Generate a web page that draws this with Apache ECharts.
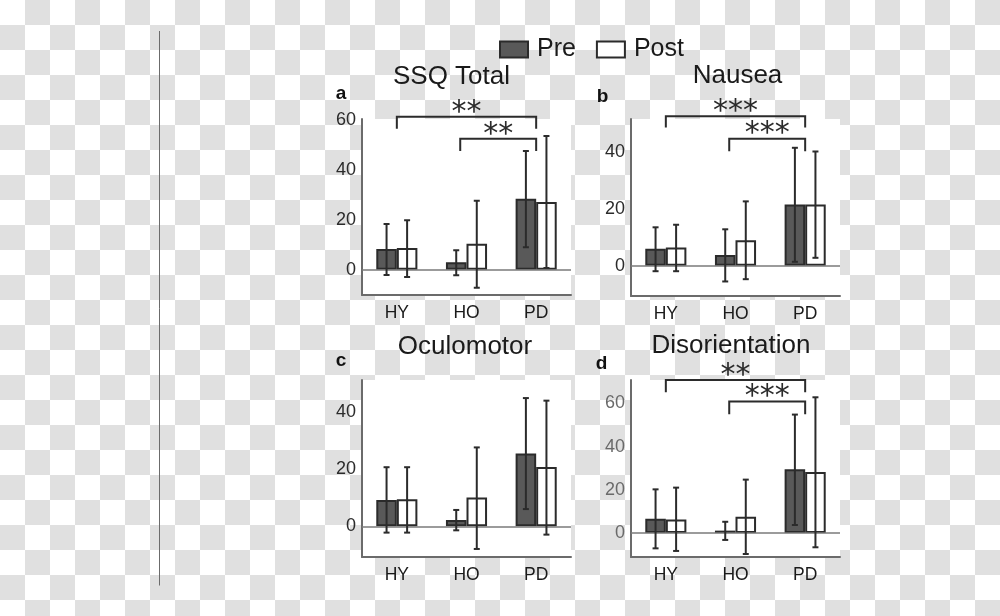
<!DOCTYPE html>
<html><head><meta charset="utf-8">
<script src="https://cdn.jsdelivr.net/npm/echarts@6/dist/echarts.min.js"></script>
<style>
html,body{margin:0;padding:0;}
#c{width:1000px;height:616px;background-color:#fff;
background-image:conic-gradient(#e0e0e0 0 25%, #fff 0 50%, #e0e0e0 0 75%, #fff 0);
background-size:50px 50px;}
</style></head><body><div id="c"></div><script>
const categories = ['HY','HO','PD'];
const seriesNames = ['Pre','Post'];
const panelTitles = ['SSQ Total','Nausea','Oculomotor','Disorientation'];
const panelLetters = ['a','b','c','d'];

// means per panel (HY, HO, PD)
const ssqPre = [8.3, 3.0, 28.4];
const ssqPost = [8.7, 10.4, 27.1];
const nauseaPre = [6.0, 3.8, 21.5];
const nauseaPost = [6.4, 9.0, 21.5];
const oculoPre = [9.2, 2.2, 25.4];
const oculoPost = [9.4, 10.0, 20.7];
const disorPre = [6.6, 1.1, 29.5];
const disorPost = [6.3, 7.5, 28.2];

// error bars [low, high]
const ssqPreErr = [[-2.1, 18.3], [-2.2, 7.8], [9.0, 47.5]];
const ssqPostErr = [[-2.9, 19.8], [-7.2, 27.6], [0.7, 53.5]];
const nauseaPreErr = [[-1.9, 13.5], [-5.5, 12.8], [1.4, 41.4]];
const nauseaPostErr = [[-1.9, 14.4], [-4.7, 22.6], [2.8, 40.1]];
const oculoPreErr = [[-2.2, 20.6], [-1.4, 5.7], [6.0, 44.7]];
const oculoPostErr = [[-2.2, 20.6], [-7.9, 27.5], [-2.9, 43.8]];
const disorPreErr = [[-7.1, 20.2], [-3.2, 5.2], [3.7, 54.8]];
const disorPostErr = [[-8.3, 21.0], [-9.7, 24.7], [-6.6, 62.8]];

// y axis ranges and tick labels
const yMin = [-10.1, -10.6, -10.7, -11.1];
const yMax = [60.3, 51.5, 51.0, 70.8];
const yTicks = [[0, 20, 40, 60], [0, 20, 40], [0, 20, 40], [0, 20, 40, 60]];

// significance brackets: [fromCat, toCat, lineY, legBottomY]
const ssqBrackets = [[0, 2, 61.2, 56.4], [0.91, 2, 52.4, 47.5]];
const ssqStars = ['**', '**'];
const nauseaBrackets = [[0, 2, 52.5, 48.5], [0.91, 2, 44.6, 40.2]];
const nauseaStars = ['***', '***'];
const oculoBrackets = [];
const oculoStars = [];
const disorBrackets = [[0, 2, 70.8, 65.1], [0.91, 2, 60.8, 54.9]];
const disorStars = ['**', '***'];

const preData = [ssqPre, nauseaPre, oculoPre, disorPre];
const postData = [ssqPost, nauseaPost, oculoPost, disorPost];
const preErr = [ssqPreErr, nauseaPreErr, oculoPreErr, disorPreErr];
const postErr = [ssqPostErr, nauseaPostErr, oculoPostErr, disorPostErr];
const brackets = [ssqBrackets, nauseaBrackets, oculoBrackets, disorBrackets];
const stars = [ssqStars, nauseaStars, oculoStars, disorStars];

const gridPos = [
  {left: 362, top: 119, width: 209, height: 176},
  {left: 631, top: 119, width: 209, height: 177},
  {left: 362, top: 380, width: 209, height: 177},
  {left: 631, top: 380, width: 209, height: 177}
];
const titlePos = [[451.5, 76.5], [737.5, 76], [465, 346.5], [731, 345.5]];
const letterPos = [[335.7, 94.1], [596.7, 96.7], [335.7, 360.7], [595.7, 363.4]];
const yLabelColor = ['#2b2b2b', '#2b2b2b', '#2b2b2b', '#6a6a6a'];

const FONT = '"Liberation Sans", Arial, sans-serif';
const INK = '#2b2b2b';
const BAR_FRAC = 0.295;

function errRender(sign) {
  return function (params, api) {
    const band = api.size([1, 0])[0];
    const c = api.value(0);
    const x = api.coord([c, 0])[0] + sign * band * BAR_FRAC / 2;
    const lo = api.coord([c, api.value(1)])[1];
    const hi = api.coord([c, api.value(2)])[1];
    const cw = 3;
    const st = {stroke: INK, lineWidth: 2};
    return {type: 'group', children: [
      {type: 'line', shape: {x1: x, y1: lo, x2: x, y2: hi}, style: st},
      {type: 'line', shape: {x1: x - cw, y1: hi, x2: x + cw, y2: hi}, style: st},
      {type: 'line', shape: {x1: x - cw, y1: lo, x2: x + cw, y2: lo}, style: st}
    ]};
  };
}
function bracketRender(labels) {
  return function (params, api) {
    const x1 = api.coord([api.value(0), 0])[0];
    const x2 = api.coord([api.value(1), 0])[0];
    const yl = api.coord([0, api.value(2)])[1];
    const yg = api.coord([0, api.value(3)])[1];
    return {type: 'group', children: [
      {type: 'polyline', shape: {points: [[x1, yg], [x1, yl], [x2, yl], [x2, yg]]},
        style: {stroke: INK, lineWidth: 2, fill: 'none'}},
      {type: 'text', x: (x1 + x2) / 2, y: yl - 4,
        style: {text: labels[params.dataIndex], fontSize: 30, fontFamily: '"DejaVu Sans", sans-serif',
          fill: INK, align: 'center', verticalAlign: 'middle'}}
    ]};
  };
}

const grid = [], xAxis = [], yAxis = [], series = [], graphic = [];
for (let i = 0; i < 4; i++) {
  grid.push(Object.assign({show: true, backgroundColor: '#fff', borderWidth: 0}, gridPos[i]));
  xAxis.push({type: 'category', gridIndex: i, data: categories,
    axisLine: {onZero: false, lineStyle: {color: '#6b6b6b', width: 2}},
    axisTick: {show: false},
    axisLabel: {color: '#1a1a1a', fontSize: 17.5, margin: 9, fontFamily: FONT}});
  xAxis.push({type: 'value', gridIndex: i, min: -0.5, max: 2.5, show: false});
  yAxis.push({type: 'value', gridIndex: i, min: yMin[i], max: yMax[i],
    axisLine: {show: true, onZero: false, lineStyle: {color: '#6b6b6b', width: 2}},
    axisTick: {show: false}, splitLine: {show: false},
    axisLabel: {customValues: yTicks[i], color: yLabelColor[i], fontSize: 18, margin: 6, fontFamily: FONT}});
  const xc = 2 * i, xv = 2 * i + 1;
  series.push({name: seriesNames[0], type: 'bar', xAxisIndex: xc, yAxisIndex: i, data: preData[i],
    barWidth: (BAR_FRAC * 100) + '%', barGap: '0%',
    itemStyle: {color: '#595959', borderColor: INK, borderWidth: 2},
    markLine: {silent: true, symbol: ['none', 'none'], label: {show: false},
      lineStyle: {color: '#7a7a7a', width: 1.5, type: 'solid'}, data: [{yAxis: 0}]}});
  series.push({name: seriesNames[1], type: 'bar', xAxisIndex: xc, yAxisIndex: i, data: postData[i],
    barWidth: (BAR_FRAC * 100) + '%', barGap: '0%',
    itemStyle: {color: '#ffffff', borderColor: INK, borderWidth: 2}});
  series.push({name: 'errPre', type: 'custom', xAxisIndex: xc, yAxisIndex: i, z: 5,
    data: preErr[i].map((e, k) => [k, e[0], e[1]]), encode: {x: 0, y: [1, 2]},
    renderItem: errRender(-1), clip: false});
  series.push({name: 'errPost', type: 'custom', xAxisIndex: xc, yAxisIndex: i, z: 5,
    data: postErr[i].map((e, k) => [k, e[0], e[1]]), encode: {x: 0, y: [1, 2]},
    renderItem: errRender(1), clip: false});
  if (brackets[i].length) {
    series.push({name: 'sig', type: 'custom', xAxisIndex: xv, yAxisIndex: i, z: 6,
      data: brackets[i], encode: {x: [0, 1], y: [2, 3]},
      renderItem: bracketRender(stars[i]), clip: false});
  }
  graphic.push({type: 'text', x: titlePos[i][0], y: titlePos[i][1], silent: true,
    style: {text: panelTitles[i], fontSize: 26, fontFamily: FONT, fill: '#1a1a1a', align: 'center', verticalAlign: 'middle'}});
  graphic.push({type: 'text', x: letterPos[i][0], y: letterPos[i][1], silent: true,
    style: {text: panelLetters[i], fontSize: 19, fontWeight: 'bold', fontFamily: FONT, fill: '#111', align: 'left', verticalAlign: 'middle'}});
}
graphic.push({type: 'line', shape: {x1: 159.5, y1: 31, x2: 159.5, y2: 585.5}, style: {stroke: '#6b6b6b', lineWidth: 1}, silent: true});

const chart = echarts.init(document.getElementById('c'), null, {renderer: 'canvas'});
chart.setOption({
  animation: false,
  backgroundColor: 'transparent',
  legend: {data: seriesNames, left: 494, top: 32, itemWidth: 28, itemHeight: 16, itemGap: 20, icon: 'rect',
    textStyle: {fontSize: 25, color: '#1a1a1a', fontFamily: FONT, padding: [0, 0, 0, 4]}},
  grid: grid, xAxis: xAxis, yAxis: yAxis, series: series, graphic: graphic
});
</script></body></html>
